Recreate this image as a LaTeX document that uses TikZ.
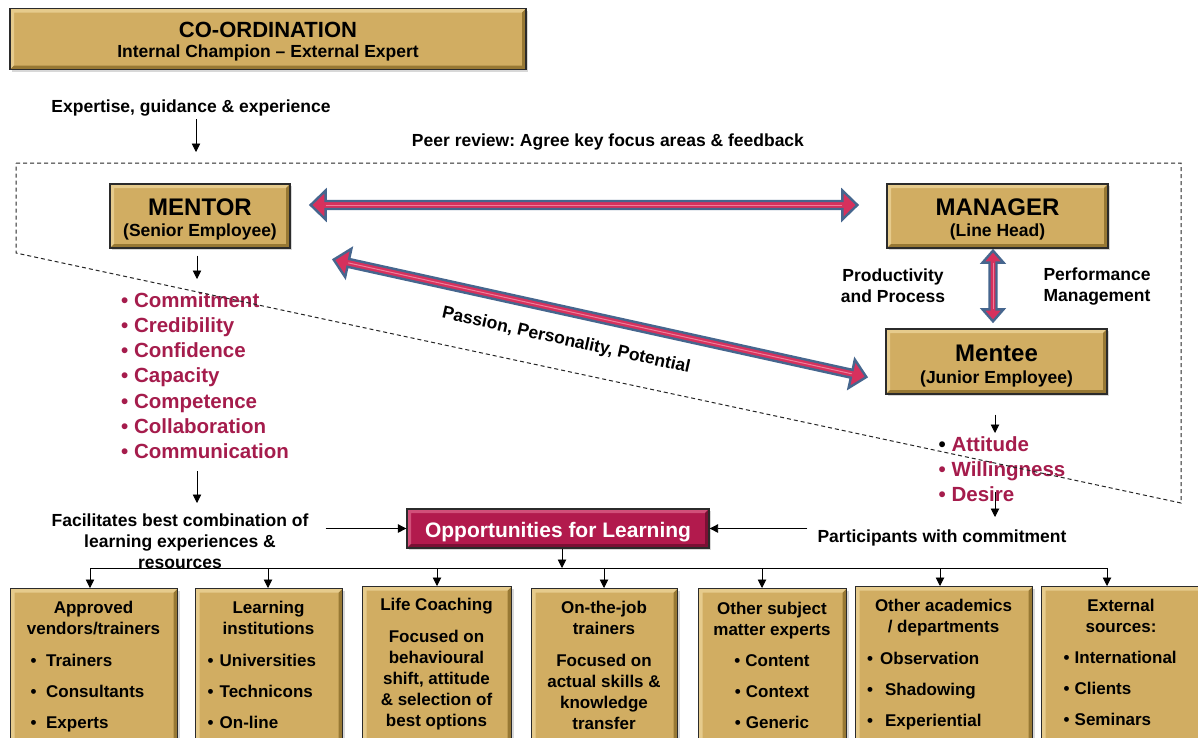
\documentclass[tikz,border=0pt]{standalone}
\usepackage{fontspec}
\setmainfont{Liberation Sans}
\usetikzlibrary{calc,shadows,arrows.meta}
\frenchspacing

\definecolor{gold}{HTML}{D1AD62}
\definecolor{goldlight}{HTML}{E6CB8C}
\definecolor{golddark}{HTML}{977834}
\definecolor{boxedge}{HTML}{2B2B2B}
\definecolor{crimson}{HTML}{A51C4C}
\definecolor{oppfill}{HTML}{B21A4D}
\definecolor{opplight}{HTML}{D14F79}
\definecolor{oppdark}{HTML}{7A1034}
\definecolor{arrowblue}{HTML}{46668E}
\definecolor{arrowpink}{HTML}{D6315D}
\definecolor{arrowhi}{HTML}{EE7E9B}

\newcommand\fsz[2]{\fontsize{#1}{#2}\selectfont\bfseries}
\newcommand\lift[1]{\rule{0pt}{#1}}

% bevelled edges of a box: light top/left, dark bottom/right
\newcommand\bevelfill[2]{%
  \fill[#1] (path picture bounding box.north west) -- (path picture bounding box.north east)
    -- ([shift={(-4pt,-4pt)}]path picture bounding box.north east)
    -- ([shift={(4pt,-4pt)}]path picture bounding box.north west)
    -- ([shift={(4pt,4pt)}]path picture bounding box.south west)
    -- (path picture bounding box.south west) -- cycle;
  \fill[#2] (path picture bounding box.south east) -- (path picture bounding box.south west)
    -- ([shift={(4pt,4pt)}]path picture bounding box.south west)
    -- ([shift={(-4pt,4pt)}]path picture bounding box.south east)
    -- ([shift={(-4pt,-4pt)}]path picture bounding box.north east)
    -- (path picture bounding box.north east) -- cycle;
}

% thick two-headed arrow between two tips: head length, head half-width, shaft half-width
\newcommand\fatarrow[5]{%
  \coordinate (fa1) at ($(#1)!#3!(#2)$);
  \coordinate (fa2) at ($(#2)!#3!(#1)$);
  \filldraw[fill=arrowpink, draw=arrowblue, line width=2.4pt, line join=miter]
    (#1) -- ($(fa1)!#4!90:(#2)$) -- ($(fa1)!#5!90:(#2)$) -- ($(fa2)!#5!-90:(#1)$)
    -- ($(fa2)!#4!-90:(#1)$) -- (#2) -- ($(fa2)!#4!90:(#1)$) -- ($(fa2)!#5!90:(#1)$)
    -- ($(fa1)!#5!-90:(#2)$) -- ($(fa1)!#4!-90:(#2)$) -- cycle;
  \draw[arrowhi, line width=1pt] (fa1) -- (fa2);
}

\tikzset{
  arr/.style={-{Triangle[length=8.5pt,width=8.5pt]}, line width=0.9pt},
  goldbox/.style={draw=boxedge, line width=1.3pt, fill=gold, inner sep=0pt, align=center,
    font=\fsz{17.5}{21},
    drop shadow={shadow xshift=2pt, shadow yshift=-2pt, opacity=0.3},
    path picture={\bevelfill{goldlight}{golddark}}},
  oppbox/.style={draw=boxedge, line width=1.3pt, fill=oppfill, inner sep=0pt,
    drop shadow={shadow xshift=2pt, shadow yshift=-2pt, opacity=0.3},
    path picture={\bevelfill{opplight}{oppdark}}},
  lbl/.style={font=\fsz{17.5}{21}, align=center, inner sep=0pt},
  boxtitle/.style={font=\fsz{17}{21}, align=center, inner sep=0pt},
  boxlist/.style={font=\fsz{17}{31}, align=left, inner sep=0pt, anchor=west},
  boxcenter/.style={font=\fsz{17}{31}, align=center, inner sep=0pt},
  quality/.style={font=\fsz{20.5}{25.2}, text=crimson, align=left, inner sep=0pt, anchor=west},
  peerline/.style={dash pattern=on 4pt off 3pt, line width=1pt, draw=black!85},
}

\begin{document}
\begin{tikzpicture}[x=1pt,y=-1pt]
\useasboundingbox (0,0) rectangle (1198,737);
\fill[white] (0,0) rectangle (1198,737);

% --- co-ordination ---
\node[goldbox, minimum width=516, minimum height=61] (coord) at (268,39)
  {\lift{21pt}\fsz{22}{21}CO-ORDINATION\\[-1.6pt]\fsz{17.5}{21}Internal Champion – External Expert};
\node[lbl] (expert) at (191,108) {Expertise, guidance \& experience};
\node[lbl] (peer) at (608,142) {Peer review: Agree key focus areas \& feedback};

% --- the three roles ---
\node[goldbox, minimum width=180, minimum height=64] (mentor) at (200,216)
  {\lift{24pt}\fsz{24}{21}MENTOR\\\fsz{17.5}{21}(Senior Employee)};
\node[goldbox, minimum width=221, minimum height=64] (manager) at (997.5,216)
  {\lift{24pt}\fsz{24}{21}MANAGER\\\fsz{17.5}{21}(Line Head)};
\node[goldbox, minimum width=221, minimum height=65] (mentee) at (996.5,361.5)
  {\lift{25.6pt}\fsz{24}{21}Mentee\\[0.7pt]\fsz{17.5}{21}(Junior Employee)};

\node[lbl] (prod) at (893,285.5) {Productivity\\and Process};
\node[lbl] (perf) at (1097,287) {Performance\\Management};

% relationship arrows
\coordinate (hA) at ($(mentor.east)+(20,-11)$);
\coordinate (hB) at ($(manager.west)+(-29,-11)$);
\fatarrow{hA}{hB}{15pt}{14.5pt}{4pt}
\coordinate (dA) at ($(mentor.south east)+(43,11)$);
\coordinate (dB) at ($(mentee.west)+(-19,15.5)$);
\fatarrow{dA}{dB}{15pt}{14.5pt}{4pt}
\coordinate (vA) at ($(manager.south)+(-4.5,2)$);
\coordinate (vB) at ($(mentee.north)+(-3.5,-7)$);
\fatarrow{vA}{vB}{12pt}{10.5pt}{3.5pt}

\node[lbl, rotate=-12.5] (ppp) at (566,341) {Passion, Personality, Potential};

% --- qualities ---
\node[quality] (mlist) at (121,375.5)
  {• Commitment\\• Credibility\\• Confidence\\• Capacity\\• Competence\\• Collaboration\\• Communication};
\node[quality] (elist) at (938.5,469)
  {{\color{black}•} Attitude\\• Willingness\\• Desire};

% --- opportunities for learning ---
\node[lbl] (facil) at (180,541) {Facilitates best combination of\\learning experiences \&\\resources};
\node[oppbox, minimum width=302, minimum height=39, text=white, font=\fsz{21}{21}] (opp) at (558,528.5)
  {\lift{22.4pt}Opportunities for Learning};
\node[lbl] (particip) at (942,538) {Participants with commitment};

% --- thin connectors ---
\coordinate (expTip) at (196,152);
\draw[arr] ($(expert.south -| expTip)+(0,3)$) -- (expTip);
\coordinate (menTip) at (197,279);
\draw[arr] ($(mentor.south -| menTip)+(0,7)$) -- (menTip);
\coordinate (mlistEnd) at (197,471);
\coordinate (facilTop) at (197,503);
\draw[arr] (mlistEnd) -- (facilTop);
\draw[arr] ([xshift=17pt]facil.east |- opp.west) -- (opp.west);
\draw[arr] ([xshift=-10pt]particip.west |- opp.east) -- (opp.east);
\coordinate (meTip) at (995,433);
\draw[arr] ($(mentee.south -| meTip)+(0,20)$) -- (meTip);
\coordinate (elistEnd) at (995,492);
\coordinate (elistTip) at (995,517);
\draw[arr] (elistEnd) -- (elistTip);

% --- distribution to the sources ---
\node[goldbox, anchor=north west, minimum width=167, minimum height=190] (b1) at (10,588) {};
\node[goldbox, anchor=north west, minimum width=147, minimum height=190] (b2) at (195,588) {};
\node[goldbox, anchor=north west, minimum width=149, minimum height=190] (b3) at (362,586) {};
\node[goldbox, anchor=north west, minimum width=146, minimum height=190] (b4) at (531,588) {};
\node[goldbox, anchor=north west, minimum width=148, minimum height=190] (b5) at (698,588) {};
\node[goldbox, anchor=north west, minimum width=177, minimum height=190] (b6) at (855,586) {};
\node[goldbox, anchor=north west, minimum width=165, minimum height=190] (b7) at (1041,586) {};

\coordinate (d1) at (90,568);
\coordinate (d2) at (268,568);
\coordinate (d3) at (437,568);
\coordinate (d4) at (604,568);
\coordinate (d5) at (762,568);
\coordinate (d6) at (940,568);
\coordinate (d7) at (1107,568);
\draw[arr] ([xshift=4pt]opp.south) -- ([xshift=4pt]opp.south |- d1);
\draw[line width=0.9pt] (d1) -- (d7);
\foreach \i in {1,...,7} \draw[arr] (d\i) -- (d\i |- b\i.north);

\node[boxtitle] (b1t) at (93.5,618) {Approved\\vendors/trainers};
\node[boxlist] (b1l) at (30.5,693) {•\hspace{9.5pt}Trainers\\•\hspace{9.5pt}Consultants\\•\hspace{9.5pt}Experts};
\node[boxtitle] (b2t) at (268.5,617.5) {Learning\\institutions};
\node[boxlist] (b2l) at (207.5,691) {•\hspace{6pt}Universities\\•\hspace{6pt}Technicons\\•\hspace{6pt}On-line};
\node[boxtitle] (b3t) at (436.5,606) {Life Coaching};
\node[boxtitle] (b3l) at (436.5,680) {Focused on\\behavioural\\shift, attitude\\\& selection of\\best options};
\node[boxtitle] (b4t) at (604,618) {On-the-job\\trainers};
\node[boxtitle] (b4l) at (604,691.5) {Focused on\\actual skills \&\\knowledge\\transfer};
\node[boxtitle] (b5t) at (772,620.5) {Other subject\\matter experts};
\node[boxcenter] (b5l) at (772,691.5) {•\hspace{5pt}Content\\•\hspace{5pt}Context\\•\hspace{5pt}Generic};
\node[boxtitle] (b6t) at (943.5,617.5) {Other academics\\/ departments};
\node[boxlist] (b6l) at (867,691) {•\hspace{7pt}Observation\\•\hspace{12pt}Shadowing\\•\hspace{12pt}Experiential};
\node[boxtitle] (b7t) at (1121,615.5) {External\\sources:};
\node[boxlist] (b7l) at (1063.5,688) {•\hspace{5pt}International\\•\hspace{5pt}Clients\\•\hspace{5pt}Seminars};

% --- peer review boundary ---
\coordinate (pA) at (16,163);
\coordinate (pB) at (1181,163);
\coordinate (pC) at (1181,503);
\coordinate (pD) at (16,253);
\draw[peerline] (pA) -- (pB) -- (pC) -- (pD) -- cycle;
\end{tikzpicture}
\end{document}
